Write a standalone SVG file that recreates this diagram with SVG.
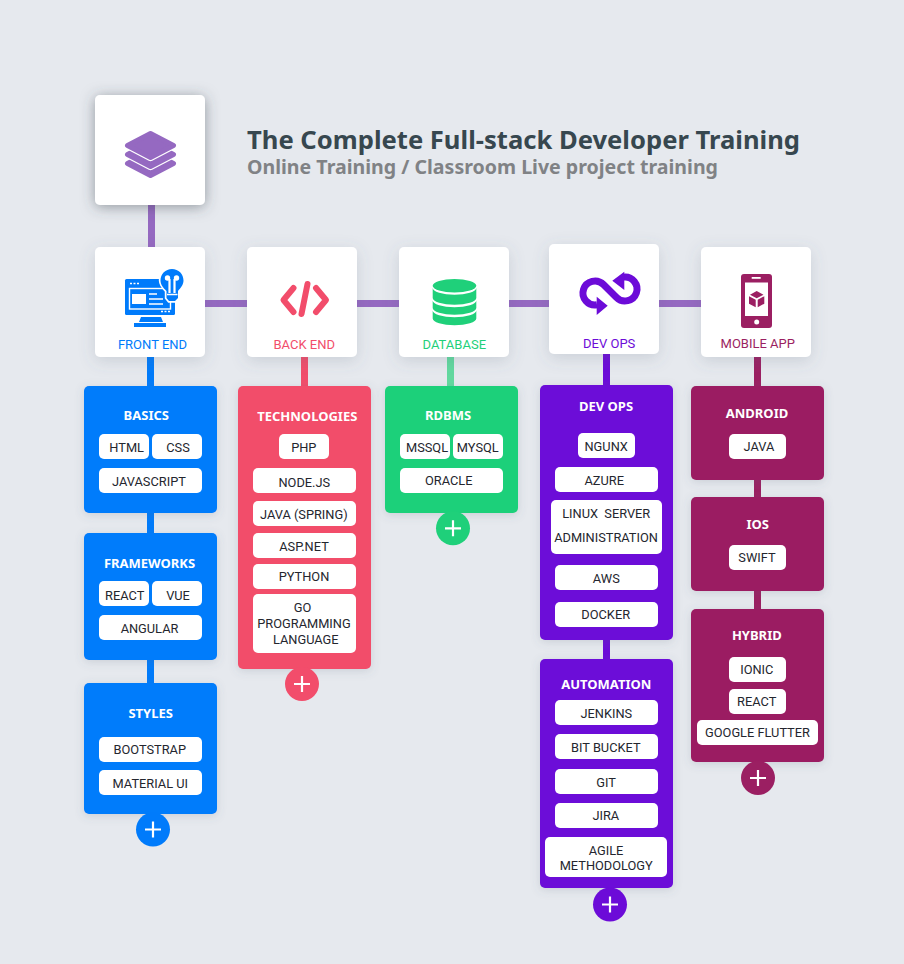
<svg xmlns="http://www.w3.org/2000/svg" width="904" height="964" viewBox="0 0 904 964">
<style>
text{font-family:Roboto,"Liberation Sans",sans-serif;text-anchor:middle}
.card{fill:#fff;filter:url(#cs)}
.logo{fill:#fff;filter:url(#ls)}
.panel{filter:url(#ps)}
.pill{fill:#fff}
.t{font-size:12.8px;fill:#24262e}
.h{font-family:"Noto Sans","Open Sans",sans-serif;font-weight:700;font-size:13px;fill:#fff}
.lb{font-size:13px}
.blue{fill:#007bfb}.red{fill:#f24d6b}.green{fill:#1fd07a}.vio{fill:#6c0bd8}.mar{fill:#9b1f62}.lp{fill:#9569c1}
.plus{stroke:#fff;stroke-width:2.200;fill:none}
</style>
<defs>
<filter id="ls" x="-30%" y="-30%" width="160%" height="160%"><feDropShadow dx="0" dy="2" stdDeviation="7" flood-color="#3a4450" flood-opacity=".5"/></filter>
<filter id="cs" x="-30%" y="-30%" width="160%" height="160%"><feDropShadow dx="0" dy="4" stdDeviation="8" flood-color="#5a6678" flood-opacity=".2"/></filter>
<filter id="ps" x="-20%" y="-20%" width="140%" height="140%"><feDropShadow dx="0" dy="2" stdDeviation="5" flood-color="#5a6678" flood-opacity=".2"/></filter>
<path id="pl" class="plus" d="M-8 0H8M0-8V8"/>
<path id="dia" d="M150.500 133.500L173.500 145.500L150.500 157.500L127.500 145.500Z"/>
</defs>
<rect width="904" height="964" fill="#e6e9ee"/>

<g id="connectors">
<rect class="lp" x="148" y="205" width="7" height="42"/>
<rect class="lp" x="205" y="300" width="496" height="7"/>
<rect class="blue" x="147" y="357" width="7" height="29"/>
<rect class="blue" x="147" y="513" width="7" height="20"/>
<rect class="blue" x="147" y="660" width="7" height="23"/>
<rect class="red" x="301" y="357" width="7" height="29"/>
<rect x="447" y="357" width="7" height="29" fill="#62d99f"/>
<rect class="vio" x="603" y="354" width="7" height="31"/>
<rect class="vio" x="603" y="640" width="7" height="19"/>
<rect class="mar" x="754" y="357" width="7" height="29"/>
<rect class="mar" x="754" y="480" width="7" height="17"/>
<rect class="mar" x="754" y="591" width="7" height="18"/>
</g>

<g id="logo">
<rect class="logo" x="95" y="95" width="110" height="110" rx="5"/>
<g fill="#9569c1" stroke-linejoin="round">
<use href="#dia" y="18" stroke="#9569c1" stroke-width="5"/>
<use href="#dia" y="9" stroke="#fff" stroke-width="7.500"/>
<use href="#dia" y="9" stroke="#9569c1" stroke-width="5"/>
<use href="#dia" stroke="#fff" stroke-width="7.500"/>
<use href="#dia" stroke="#9569c1" stroke-width="5"/>
</g>
</g>

<g id="title">
<text x="247" y="149" style="text-anchor:start;font-family:'Noto Sans',sans-serif;font-weight:700;font-size:25px;fill:#37474f" textLength="553" lengthAdjust="spacingAndGlyphs">The Complete Full-stack Developer Training</text>
<text x="247" y="174" style="text-anchor:start;font-family:'Noto Sans',sans-serif;font-weight:700;font-size:19px;fill:#808285" textLength="471" lengthAdjust="spacingAndGlyphs">Online Training / Classroom Live project training</text>
</g>

<g id="front-end">
<rect class="card" x="95" y="247" width="110" height="110" rx="5"/>
<rect class="blue" x="125" y="279" width="50" height="36" rx="1.500"/>
<path class="blue" d="M141 317H161L163 322H139ZM134 323H166V327H134Z"/>
<rect x="129.500" y="288.500" width="41" height="20.500" fill="none" stroke="#fff" stroke-width="1.400"/>
<rect x="132" y="294" width="14" height="10" fill="#fff"/>
<path d="M149 294H157M149 299H163M149 304H163" stroke="#fff" stroke-width="1.300"/>
<path d="M130 283.500h2M133.500 283.500h2M137 283.500h2M161 311.500h2M164.500 311.500h2M168 311.500h2" stroke="#fff" stroke-width="1.500"/>
<path d="M172 269C178.500 269 183.500 274 183.500 280.500C183.500 285 180.500 288 178 291V298L175 301H169L166.500 298V291C163.500 288 160.500 285 160.500 280.500C160.500 274 165.500 269 172 269Z" class="blue" stroke="#fff" stroke-width="3.400" paint-order="stroke"/>
<path d="M169.500 279V293M174.500 279V293" stroke="#fff" stroke-width="2.200" fill="none"/>
<circle cx="167.500" cy="278" r="2.700" fill="#fff"/><circle cx="176.500" cy="278" r="2.700" fill="#fff"/>
<path d="M167 294.500H177.500" stroke="#fff" stroke-width="1.500"/>
<text class="lb blue" x="152.500" y="349">FRONT END</text>
</g>

<g id="back-end">
<rect class="card" x="247" y="247" width="110" height="110" rx="5"/>
<path d="M293.500 288L283.500 300L293.500 312M316 288L326 300L316 312M307.500 284L301.500 314" fill="none" stroke="#f24d6b" stroke-width="6" stroke-linecap="round" stroke-linejoin="round"/>
<text class="lb red" x="304.300" y="349">BACK END</text>
</g>

<g id="database">
<rect class="card" x="399" y="247" width="110" height="110" rx="5"/>
<ellipse class="green" cx="454.500" cy="285.700" rx="21.800" ry="6.700"/>
<path class="green" d="M432.700 288A21.800 6.700 0 0 0 476.300 288V298A21.800 6.700 0 0 1 432.700 298Z"/>
<path class="green" d="M432.700 300.500A21.800 6.700 0 0 0 476.300 300.500V308A21.800 6.700 0 0 1 432.700 308Z"/>
<path class="green" d="M432.700 310.500A21.800 6.700 0 0 0 476.300 310.500V318.500A21.800 6.700 0 0 1 432.700 318.500Z"/>
<text class="lb green" x="454.300" y="349">DATABASE</text>
</g>

<g id="dev-ops">
<rect class="card" x="549" y="244" width="110" height="110" rx="5"/>
<path d="M597 304.800A12 12 0 1 1 603.460 284.480L616.540 297.520A12 12 0 1 0 623.500 277.100" fill="none" stroke="#6c0bd8" stroke-width="7"/>
<path class="vio" d="M596.700 296.700L607.700 305.700L596.700 315ZM624.300 271.700L612.300 280.700L624.300 290Z"/>
<text class="lb vio" x="609.200" y="348">DEV OPS</text>
</g>

<g id="mobile-app">
<rect class="card" x="701" y="247" width="110" height="110" rx="5"/>
<rect class="mar" x="741" y="274" width="31" height="54" rx="3"/>
<rect x="745" y="282.500" width="23" height="33.500" fill="#fff"/>
<rect x="751.700" y="277" width="9" height="1.800" fill="#fff"/>
<circle cx="756.700" cy="322" r="2.500" fill="#fff"/>
<path class="mar" d="M756.700 291L763.500 294.700L756.700 298.200L750 294.700ZM749 296.200L755.700 299.800V307.300L749 303.700ZM764.300 296.200L757.700 299.800V307.300L764.300 303.700Z"/>
<text class="lb mar" x="757.800" y="348">MOBILE APP</text>
</g>

<g id="basics">
<rect class="panel blue" x="84" y="386" width="133" height="127" rx="5"/>
<text class="h" x="146.300" y="420">BASICS</text>
<rect class="pill" x="99" y="434" width="50" height="25" rx="5"/><text class="t" x="126.700" y="452">HTML</text>
<rect class="pill" x="152" y="434" width="50" height="25" rx="5"/><text class="t" x="178" y="452">CSS</text>
<rect class="pill" x="99" y="468" width="103" height="25" rx="5"/><text class="t" x="149" y="485.700">JAVASCRIPT</text>
</g>
<g id="frameworks">
<rect class="panel blue" x="84" y="533" width="133" height="127" rx="5"/>
<text class="h" x="149.500" y="567.700">FRAMEWORKS</text>
<rect class="pill" x="99" y="581" width="50" height="25" rx="5"/><text class="t" x="124.700" y="599.500">REACT</text>
<rect class="pill" x="152" y="581" width="50" height="25" rx="5"/><text class="t" x="178" y="599.500">VUE</text>
<rect class="pill" x="99" y="615" width="103" height="25" rx="5"/><text class="t" x="149.500" y="632.700">ANGULAR</text>
</g>
<g id="styles">
<rect class="panel blue" x="84" y="683" width="133" height="131" rx="5"/>
<text class="h" x="150.700" y="717.700">STYLES</text>
<rect class="pill" x="99" y="737" width="103" height="25" rx="5"/><text class="t" x="149.800" y="754.300">BOOTSTRAP</text>
<rect class="pill" x="99" y="770" width="103" height="25" rx="5"/><text class="t" x="150.300" y="788.300">MATERIAL UI</text>
</g>
<g id="front-end-more"><circle class="blue" cx="153" cy="829.500" r="17"/><use href="#pl" x="153" y="829.500"/></g>

<g id="technologies">
<rect class="panel red" x="238" y="386" width="133" height="283" rx="5"/>
<text class="h" x="307.300" y="421.300">TECHNOLOGIES</text>
<rect class="pill" x="279" y="434" width="50" height="25" rx="5"/><text class="t" x="303.800" y="452">PHP</text>
<rect class="pill" x="253" y="468" width="103" height="25" rx="5"/><text class="t" x="304.300" y="486.500">NODE.JS</text>
<rect class="pill" x="253" y="501" width="103" height="25" rx="5"/><text class="t" x="303.800" y="518.700">JAVA (SPRING)</text>
<rect class="pill" x="253" y="533" width="103" height="25" rx="5"/><text class="t" x="304" y="550.700">ASP.NET</text>
<rect class="pill" x="253" y="564" width="103" height="25" rx="5"/><text class="t" x="304" y="580.700">PYTHON</text>
<rect class="pill" x="253" y="594" width="103" height="59" rx="5"/>
<text class="t" x="302.500" y="612.300">GO</text><text class="t" x="304" y="628.300">PROGRAMMING</text><text class="t" x="305.800" y="643.700">LANGUAGE</text>
</g>
<g id="back-end-more"><circle class="red" cx="302" cy="684" r="17"/><use href="#pl" x="302" y="684"/></g>

<g id="rdbms">
<rect class="panel green" x="385" y="386" width="133" height="127" rx="5"/>
<text class="h" x="448" y="420">RDBMS</text>
<rect class="pill" x="400" y="434" width="50" height="25" rx="5"/><text class="t" x="427" y="452.300">MSSQL</text>
<rect class="pill" x="453" y="434" width="50" height="25" rx="5"/><text class="t" x="477.800" y="451.700">MYSQL</text>
<rect class="pill" x="400" y="468" width="103" height="25" rx="5"/><text class="t" x="448.800" y="485.200">ORACLE</text>
</g>
<g id="database-more"><circle class="green" cx="453" cy="528.300" r="17"/><use href="#pl" x="453" y="528.300"/></g>

<g id="devops-panel">
<rect class="panel vio" x="540" y="385" width="133" height="255" rx="5"/>
<text class="h" x="606" y="410.700">DEV OPS</text>
<rect class="pill" x="578" y="433" width="57" height="25" rx="5"/><text class="t" x="606.200" y="451.300">NGUNX</text>
<rect class="pill" x="555" y="467" width="103" height="25" rx="5"/><text class="t" x="604.200" y="484.700">AZURE</text>
<rect class="pill" x="551" y="500" width="111" height="54" rx="5"/>
<text class="t" x="606.200" y="517.700" xml:space="preserve">LINUX  SERVER</text><text class="t" x="606" y="541.700">ADMINISTRATION</text>
<rect class="pill" x="555" y="565" width="103" height="25" rx="5"/><text class="t" x="606.300" y="582.700">AWS</text>
<rect class="pill" x="555" y="602" width="103" height="25" rx="5"/><text class="t" x="605.700" y="619.300">DOCKER</text>
</g>
<g id="automation">
<rect class="panel vio" x="540" y="659" width="133" height="229" rx="5"/>
<text class="h" x="606.300" y="689">AUTOMATION</text>
<rect class="pill" x="555" y="700" width="103" height="25" rx="5"/><text class="t" x="606.300" y="717.700">JENKINS</text>
<rect class="pill" x="555" y="734" width="103" height="25" rx="5"/><text class="t" x="605.800" y="751.700">BIT BUCKET</text>
<rect class="pill" x="555" y="769" width="103" height="25" rx="5"/><text class="t" x="606" y="786.700">GIT</text>
<rect class="pill" x="555" y="803" width="103" height="25" rx="5"/><text class="t" x="605.800" y="820.300">JIRA</text>
<rect class="pill" x="545" y="837" width="122" height="40" rx="5"/>
<text class="t" x="606" y="854.700">AGILE</text><text class="t" x="606.200" y="870.300">METHODOLOGY</text>
</g>
<g id="devops-more"><circle class="vio" cx="610" cy="904.500" r="17"/><use href="#pl" x="610" y="904.500"/></g>

<g id="android">
<rect class="panel mar" x="691" y="386" width="133" height="94" rx="5"/>
<text class="h" x="757" y="417.700">ANDROID</text>
<rect class="pill" x="729" y="434" width="57" height="25" rx="5"/><text class="t" x="759" y="450.700">JAVA</text>
</g>
<g id="ios">
<rect class="panel mar" x="691" y="497" width="133" height="94" rx="5"/>
<text class="h" x="757.700" y="528.700">IOS</text>
<rect class="pill" x="729" y="545" width="57" height="25" rx="5"/><text class="t" x="757" y="561.700">SWIFT</text>
</g>
<g id="hybrid">
<rect class="panel mar" x="691" y="609" width="133" height="153" rx="5"/>
<text class="h" x="756.800" y="640.300">HYBRID</text>
<rect class="pill" x="729" y="657" width="57" height="25" rx="5"/><text class="t" x="756.800" y="673.700">IONIC</text>
<rect class="pill" x="729" y="689" width="57" height="25" rx="5"/><text class="t" x="756.700" y="705.700">REACT</text>
<rect class="pill" x="697" y="720" width="121" height="25" rx="5"/><text class="t" x="757.500" y="737.300">GOOGLE FLUTTER</text>
</g>
<g id="mobile-more"><circle class="mar" cx="758" cy="778" r="17"/><use href="#pl" x="758" y="778"/></g>
</svg>
